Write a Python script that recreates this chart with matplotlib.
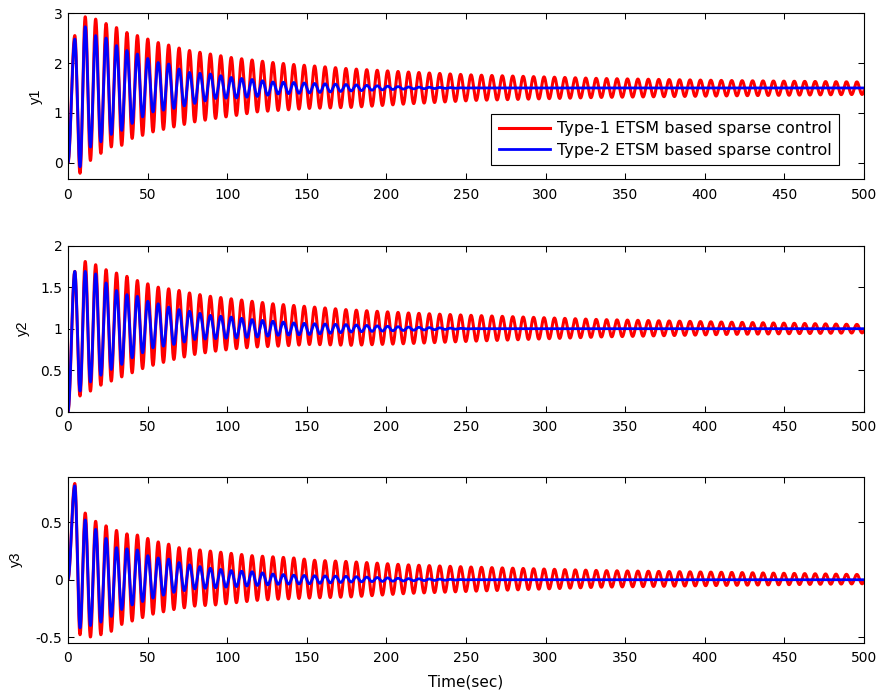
import numpy as np
import matplotlib
matplotlib.use("Agg")
import matplotlib.pyplot as plt

plt.rcParams['font.family'] = ['DejaVu Sans']
plt.rcParams['axes.unicode_minus'] = False

# envelope readings (time in sec) taken from the figure
peak_t = [4.3, 10.9, 17.4, 24, 30.5, 37.1, 43.6, 50.2, 56.7, 63.3, 69.8, 76.4,
          89.5, 102.6, 115.7, 128.8, 141.9, 155, 174.6, 213, 255, 335, 413, 500]
trough_t = [7.6, 14.2, 20.7, 27.3, 33.8, 40.4, 46.9, 53.5, 66.6, 79.7, 92.8,
            105.9, 119, 132.1, 151.8, 178, 213, 255, 335, 413, 500]

y1_red_pk = [2.55, 2.93, 2.88, 2.79, 2.71, 2.61, 2.55, 2.48, 2.41, 2.36, 2.3, 2.25,
             2.18, 2.11, 2.06, 2.01, 1.97, 1.94, 1.89, 1.82, 1.76, 1.69, 1.65, 1.62]
y1_red_tr = [-0.21, 0.05, 0.19, 0.32, 0.35, 0.49, 0.55, 0.62, 0.72, 0.82, 0.89,
             0.95, 1.02, 1.05, 1.09, 1.11, 1.18, 1.25, 1.31, 1.34, 1.37]
y1_blue_pk = [2.48, 2.73, 2.55, 2.5, 2.35, 2.25, 2.18, 2.09, 2.01, 1.98, 1.88, 1.81,
              1.78, 1.71, 1.67, 1.62, 1.61, 1.59, 1.57, 1.52, 1.5, 1.5, 1.5, 1.5]
y1_blue_tr = [-0.08, 0.32, 0.42, 0.57, 0.65, 0.79, 0.92, 1.02, 1.09, 1.19, 1.29,
              1.3, 1.33, 1.38, 1.4, 1.44, 1.48, 1.5, 1.5, 1.5, 1.5]

y2_red_pk = [1.69, 1.81, 1.77, 1.71, 1.67, 1.63, 1.58, 1.54, 1.5, 1.48, 1.46, 1.43,
             1.39, 1.36, 1.33, 1.3, 1.28, 1.26, 1.23, 1.19, 1.16, 1.11, 1.08, 1.05]
y2_red_tr = [0.19, 0.25, 0.32, 0.37, 0.42, 0.47, 0.52, 0.56, 0.63, 0.69, 0.73,
             0.76, 0.78, 0.79, 0.81, 0.8, 0.82, 0.85, 0.9, 0.93, 0.95]
y2_blue_pk = [1.69, 1.69, 1.66, 1.55, 1.46, 1.41, 1.39, 1.33, 1.3, 1.26, 1.23, 1.21,
              1.16, 1.14, 1.11, 1.09, 1.07, 1.06, 1.05, 1.02, 1.0, 1.0, 1.0, 1.0]
y2_blue_tr = [0.25, 0.36, 0.44, 0.51, 0.57, 0.65, 0.71, 0.77, 0.81, 0.87, 0.88,
              0.89, 0.9, 0.92, 0.93, 0.96, 0.98, 1.0, 1.0, 1.0, 1.0]

y3_red_pk = [0.84, 0.58, 0.51, 0.47, 0.43, 0.4, 0.39, 0.36, 0.33, 0.31, 0.28, 0.27,
             0.25, 0.23, 0.21, 0.2, 0.19, 0.17, 0.16, 0.13, 0.11, 0.08, 0.065, 0.045]
y3_red_tr = [-0.48, -0.5, -0.48, -0.45, -0.39, -0.36, -0.33, -0.3, -0.26, -0.23,
             -0.22, -0.2, -0.18, -0.17, -0.16, -0.15, -0.12, -0.1, -0.065, -0.05, -0.035]
y3_blue_pk = [0.82, 0.52, 0.44, 0.36, 0.28, 0.27, 0.26, 0.21, 0.19, 0.18, 0.15, 0.13,
              0.1, 0.08, 0.07, 0.05, 0.04, 0.035, 0.03, 0.01, 0.0, 0.0, 0.0, 0.0]
y3_blue_tr = [-0.42, -0.4, -0.37, -0.32, -0.26, -0.22, -0.19, -0.16, -0.11, -0.08,
              -0.07, -0.06, -0.05, -0.04, -0.035, -0.02, -0.01, 0.0, 0.0, 0.0, 0.0]

period = 6.55
first_peak = 4.3
t_end = 500

ylims = [(-0.33, 3), (0, 2), (-0.55, 0.9)]
yticks = [[0, 1, 2, 3], [0, 0.5, 1, 1.5, 2], [-0.5, 0, 0.5]]
ylabels = ['y1', 'y2', 'y3']
ylab_x = [-0.031, -0.048, -0.056]
labels = ['Type-1 ETSM based sparse control', 'Type-2 ETSM based sparse control']


def signal(pk, tr):
    # alternate peaks and troughs read from the envelopes, joined by half cosines
    tp = np.arange(first_peak, t_end + period, period)
    tt = tp + period / 2
    et = np.concatenate(([0.0], np.ravel(np.column_stack((tp, tt)))))
    ev = np.concatenate(([0.0], np.ravel(np.column_stack(
        (np.interp(tp, peak_t, pk), np.interp(tt, trough_t, tr))))))
    t = np.linspace(0, t_end, 20001)
    i = np.clip(np.searchsorted(et, t, side='right') - 1, 0, len(et) - 2)
    s = (t - et[i]) / (et[i + 1] - et[i])
    y = ev[i] + (ev[i + 1] - ev[i]) * (1 - np.cos(np.pi * s)) / 2
    return t, y


series = [(y1_red_pk, y1_red_tr, y1_blue_pk, y1_blue_tr),
          (y2_red_pk, y2_red_tr, y2_blue_pk, y2_blue_tr),
          (y3_red_pk, y3_red_tr, y3_blue_pk, y3_blue_tr)]
bottoms = [0.741, 0.405, 0.0712]

fig = plt.figure(figsize=(8.78, 6.92), dpi=100)
axs = []
for k in range(3):
    ax = fig.add_axes([0.0774, bottoms[k], 0.9066, 0.240])
    rp, rt, bp, bt = series[k]
    t, yr = signal(rp, rt)
    ax.plot(t, yr, color=(1, 0, 0), lw=2.2, label=labels[0])
    t, yb = signal(bp, bt)
    ax.plot(t, yb, color=(0, 0, 1), lw=2, label=labels[1])
    ax.set_xlim(0, 500)
    ax.set_ylim(*ylims[k])
    ax.set_xticks(np.arange(0, 501, 50))
    ax.set_yticks(yticks[k])
    ax.set_yticklabels([('%g' % v) for v in yticks[k]])
    ax.tick_params(direction='in', length=4, width=0.75, top=True, right=True,
                   labelsize=10, pad=4)
    ax.tick_params(axis='x', pad=6)
    for sp in ax.spines.values():
        sp.set_linewidth(0.8)
    ax.set_ylabel(ylabels[k], fontsize=10.5, family='Liberation Sans')
    ax.yaxis.set_label_coords(ylab_x[k], 0.5)
    axs.append(ax)

axs[2].set_xlabel('Time(sec)', fontsize=11)
axs[2].xaxis.set_label_coords(0.5, -0.19)

leg = axs[0].legend(loc='lower right', bbox_to_anchor=(0.9686, 0.0865),
                    fontsize=11.5, handlelength=3.2, handletextpad=0.45,
                    fancybox=False, edgecolor='black', framealpha=1,
                    borderpad=0.45, labelspacing=0.4, borderaxespad=0)
leg.get_frame().set_linewidth(0.8)

fig.savefig('out.png', dpi=100)
